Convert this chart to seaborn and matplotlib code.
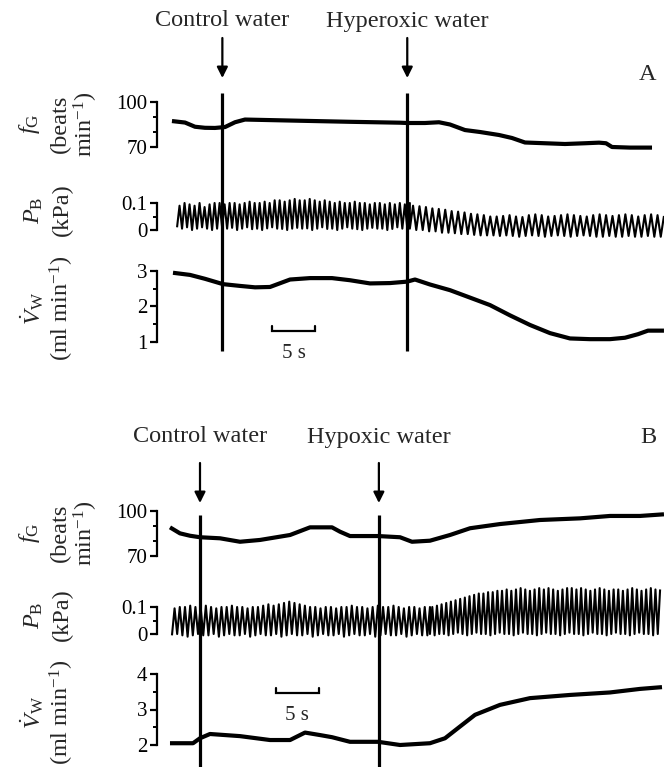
import numpy as np
import pandas as pd
import matplotlib
matplotlib.use("Agg")
import matplotlib.pyplot as plt
import seaborn as sns

# ---------------- data (time in s, values in trace units) ----------------
# Panel A
fg_a_t = [1.74, 3.26, 4.42, 5.58, 6.74, 7.91, 9.07, 10.23, 16.63, 22.44, 28.26, 29.07,
          31.16, 32.79, 34.07, 35.81, 37.56, 39.77, 41.28, 42.79, 45.12, 47.44, 49.77,
          51.40, 52.21, 52.91, 55.0, 57.56]
fg_a_v = [87.3, 86.3, 83.5, 82.8, 82.7, 83.3, 86.5, 88.3, 87.5, 86.8, 86.2, 86.0,
          86.0, 86.5, 85.0, 81.3, 80.0, 78.0, 76.0, 73.0, 72.5, 72.0, 72.5,
          72.9, 72.5, 70.0, 69.6, 69.6]

vw_a_t = [1.86, 3.84, 5.58, 7.67, 9.65, 11.40, 13.14, 15.47, 17.79, 20.35, 22.44, 24.77,
          27.09, 29.07, 30.0, 31.74, 34.07, 36.40, 38.72, 41.05, 43.37, 45.70, 48.02,
          50.35, 52.67, 54.42, 55.93, 57.09, 58.95]
vw_a_v = [2.95, 2.89, 2.78, 2.63, 2.58, 2.54, 2.55, 2.76, 2.80, 2.80, 2.74, 2.65,
          2.66, 2.70, 2.76, 2.62, 2.46, 2.25, 2.04, 1.75, 1.48, 1.25, 1.10,
          1.08, 1.08, 1.12, 1.22, 1.32, 1.32]

pb_a1_span = (2.33, 29.4)
pb_a1_peak = [0.09, 0.10, 0.095, 0.09, 0.10, 0.085, 0.095, 0.10, 0.10, 0.095,
              0.10, 0.10, 0.095, 0.10, 0.105, 0.10, 0.10, 0.105, 0.10, 0.11,
              0.11, 0.105, 0.11, 0.115, 0.11, 0.11, 0.115, 0.11, 0.105, 0.11,
              0.105, 0.10, 0.105, 0.10, 0.10, 0.105, 0.10, 0.10, 0.095, 0.10,
              0.10, 0.095, 0.10, 0.095, 0.10, 0.095, 0.10]
pb_a1_trough = [0.01, 0.005, 0.01, 0.0, 0.005, 0.01, 0.005, 0.0, 0.005, 0.01,
                0.005, 0.008, 0.0, 0.005, 0.01, 0.003, 0.005, 0.0, 0.006, 0.01,
                0.005, 0.004, 0.0, 0.005, 0.008, 0.005, 0.006, 0.0, 0.005, 0.01,
                0.004, 0.005, 0.0, 0.005, 0.01, 0.005, 0.003, 0.0, 0.005, 0.008,
                0.005, 0.005, 0.0, 0.004, 0.01, 0.005, 0.005]
pb_a2_span = (29.4, 58.95)
pb_a2_peak = [0.09, 0.088, 0.085, 0.08, 0.078, 0.075, 0.07, 0.068, 0.065, 0.06,
              0.058, 0.055, 0.05, 0.05, 0.052, 0.055, 0.05, 0.048, 0.055, 0.058,
              0.055, 0.05, 0.052, 0.055, 0.058, 0.055, 0.052, 0.05, 0.055, 0.058,
              0.055, 0.052, 0.055, 0.058, 0.055, 0.05, 0.055, 0.058, 0.055, 0.052]
pb_a2_trough = [0.005, 0.0, 0.0, -0.005, -0.005, -0.01, -0.01, -0.012, -0.015, -0.015,
                -0.018, -0.02, -0.02, -0.02, -0.022, -0.02, -0.022, -0.025, -0.022, -0.02,
                -0.022, -0.025, -0.022, -0.02, -0.022, -0.025, -0.022, -0.02, -0.022, -0.025,
                -0.025, -0.022, -0.025, -0.025, -0.022, -0.025, -0.025, -0.022, -0.025, -0.025]

events_a = [7.6, 29.1]
event_labels_a = ["Control water", "Hyperoxic water"]

# Panel B
fg_b_t = [1.51, 2.67, 3.84, 5.0, 7.33, 9.65, 11.98, 15.47, 17.79, 20.35, 21.28, 22.44,
          25.70, 28.26, 29.65, 31.74, 34.07, 36.40, 39.88, 44.53, 49.19, 52.67, 56.16, 58.95]
fg_b_v = [89.1, 85.1, 83.5, 82.5, 81.8, 79.5, 80.7, 84.0, 89.1, 89.1, 86.2, 83.3,
          83.3, 82.5, 79.5, 80.2, 84.0, 88.5, 91.3, 94.0, 95.1, 96.7, 96.7, 97.8]

vw_b_t = [1.51, 4.19, 5.0, 6.16, 9.65, 13.14, 15.47, 17.21, 18.95, 20.35, 22.44, 25.70,
          28.26, 31.74, 33.49, 35.23, 36.98, 39.88, 43.37, 48.02, 52.67, 56.16, 58.72]
vw_b_v = [2.05, 2.05, 2.19, 2.31, 2.25, 2.14, 2.14, 2.35, 2.28, 2.22, 2.09, 2.09,
          2.0, 2.05, 2.19, 2.52, 2.85, 3.13, 3.32, 3.41, 3.48, 3.58, 3.63]

pb_b1_span = (1.74, 31.74)
pb_b1_peak = [0.095, 0.10, 0.10, 0.105, 0.10, 0.10, 0.105, 0.10, 0.095, 0.10,
              0.10, 0.105, 0.10, 0.10, 0.095, 0.10, 0.10, 0.105, 0.11, 0.105,
              0.11, 0.115, 0.12, 0.115, 0.11, 0.105, 0.10, 0.10, 0.095, 0.10,
              0.10, 0.095, 0.10, 0.10, 0.105, 0.10, 0.10, 0.095, 0.10, 0.105,
              0.10, 0.10, 0.105, 0.10, 0.095, 0.10, 0.10, 0.095, 0.10, 0.10]
pb_b1_trough = [-0.005, 0.0, -0.005, -0.01, -0.005, 0.0, -0.005, -0.005, 0.0, -0.01,
                -0.005, 0.0, -0.005, -0.005, 0.0, -0.01, -0.005, 0.0, -0.005, -0.005,
                0.0, -0.01, -0.005, 0.0, -0.005, -0.005, 0.0, -0.01, -0.005, 0.0,
                -0.005, -0.005, 0.0, -0.01, -0.005, 0.0, -0.005, -0.005, 0.0, -0.01,
                -0.005, 0.0, -0.005, -0.005, 0.0, -0.01, -0.005, 0.0, -0.005, -0.005]
pb_b2_span = (31.74, 58.5)
pb_b2_peak = [0.10, 0.105, 0.11, 0.115, 0.12, 0.125, 0.13, 0.135, 0.14, 0.145,
              0.15, 0.15, 0.155, 0.155, 0.16, 0.16, 0.165, 0.16, 0.165, 0.17,
              0.165, 0.16, 0.165, 0.17, 0.165, 0.17, 0.165, 0.16, 0.165, 0.17,
              0.17, 0.165, 0.17, 0.165, 0.16, 0.165, 0.17, 0.165, 0.16, 0.165,
              0.165, 0.16, 0.165, 0.17, 0.165, 0.16, 0.165, 0.17, 0.165, 0.165]
pb_b2_trough = [0.0, -0.005, 0.0, 0.0, -0.005, 0.0, 0.005, 0.0, -0.005, 0.0,
                0.005, 0.0, 0.0, -0.005, 0.0, 0.005, 0.0, 0.0, -0.005, 0.0,
                0.005, 0.0, 0.0, -0.005, 0.0, 0.005, 0.0, 0.0, -0.005, 0.0,
                0.005, 0.0, 0.0, -0.005, 0.0, 0.005, 0.0, 0.0, -0.005, 0.0,
                0.005, 0.0, 0.0, -0.005, 0.0, 0.005, 0.0, 0.0, -0.005, 0.0]

events_b = [5.0, 25.8]
event_labels_b = ["Control water", "Hypoxic water"]

scale_bar_s = 5

# ---------------- figure setup ----------------
sns.set_style("white")
plt.rcParams["font.family"] = ["Liberation Serif", "DejaVu Serif"]
plt.rcParams["mathtext.fontset"] = "custom"
plt.rcParams["mathtext.rm"] = "Liberation Serif"
plt.rcParams["mathtext.it"] = "Liberation Serif:italic"
plt.rcParams["mathtext.bf"] = "Liberation Serif:bold"

W, H = 664, 767
X0 = 157  # x pixel of the y spines
PX_PER_S = 8.6
TMAX = (W - X0) / PX_PER_S

fig = plt.figure(figsize=(W / 100, H / 100), dpi=100)
fig.patch.set_facecolor("white")

TICK_FS = 15
LAB_FS = 17.5


def trace_axes(top, bot, v1, y1, v2, y2, major, minor):
    ax = fig.add_axes([X0 / W, 1 - bot / H, (W - X0) / W, (bot - top) / H])
    ax.patch.set_alpha(0)
    slope = (v2 - v1) / (y2 - y1)
    vtop = v1 + (top - y1) * slope
    vbot = v1 + (bot - y1) * slope
    ax.set_ylim(vbot, vtop)
    ax.set_xlim(0, TMAX)
    for s in ["top", "right", "bottom"]:
        ax.spines[s].set_visible(False)
    ax.spines["left"].set_linewidth(1.6)
    ax.spines["left"].set_color("black")
    ax.spines["left"].set_bounds(min(major), max(major))
    ax.set_yticks(major)
    ax.set_yticks(minor, minor=True)
    ax.tick_params(axis="y", which="major", left=True, direction="out", length=5, width=1.6,
                   labelsize=TICK_FS, pad=2, colors="black")
    ax.tick_params(axis="y", which="minor", left=True, direction="out", length=3, width=1.4,
                   colors="black")
    ax.set_xticks([])
    ax.set_xlabel("")
    ax.set_ylabel("")
    ax.grid(False)
    return ax


def draw_line(ax, t, v, lw):
    df = pd.DataFrame({"t": t, "v": v})
    sns.lineplot(data=df, x="t", y="v", ax=ax, color="black", lw=lw,
                 estimator=None, sort=False, legend=False)
    ax.set_xlabel("")
    ax.set_ylabel("")
    for ln in ax.lines:
        ln.set_solid_capstyle("butt")
        ln.set_solid_joinstyle("round")


def pb_frame(spans_peaks_troughs):
    ts, vs = [], []
    for (t0, t1), pk, tr in spans_peaks_troughs:
        n = len(pk)
        tt = np.linspace(t0, t1, 2 * n)
        vv = np.empty(2 * n)
        vv[0::2] = tr
        vv[1::2] = pk
        ts.extend(tt)
        vs.extend(vv)
    return ts, vs


def overlay(events, labels, y_text, y_arrow0, y_arrow1, y_line0, y_line1, bar_t0, bar_y,
            panel_letter, letter_y):
    ov = fig.add_axes([X0 / W, 0, (W - X0) / W, 1])
    ov.set_xlim(0, TMAX)
    ov.set_ylim(H, 0)
    ov.axis("off")
    ov.vlines(events, y_line0, y_line1, color="black", lw=2.3)
    for t, lab in zip(events, labels):
        ov.annotate("", xy=(t, y_arrow1), xytext=(t, y_arrow0),
                    arrowprops=dict(arrowstyle="-|>", lw=1.6, color="black",
                                    mutation_scale=16, shrinkA=0, shrinkB=0))
        ov.text(t, y_text, lab, ha="center", va="center", fontsize=LAB_FS, clip_on=False)
    # 5 s scale bar
    ov.plot([bar_t0, bar_t0, bar_t0 + scale_bar_s, bar_t0 + scale_bar_s],
            [bar_y - 5, bar_y, bar_y, bar_y - 5], color="black", lw=1.6,
            solid_joinstyle="miter")
    ov.text(bar_t0 + scale_bar_s / 2, bar_y + 22, f"{scale_bar_s} s", ha="center",
            va="center", fontsize=TICK_FS)
    fig.text(648 / W, 1 - letter_y / H, panel_letter, ha="center", va="center",
             fontsize=LAB_FS)
    return ov


def ylabel_lines(lines, xs, y_center):
    for txt, x in zip(lines, xs):
        fig.text(x / W, 1 - y_center / H, txt, rotation=90, ha="center", va="center",
                 fontsize=LAB_FS)


# ---------------- Panel A ----------------
ax = trace_axes(92, 165, 100, 102, 70, 147, [70, 100], [80, 90])
draw_line(ax, fg_a_t, fg_a_v, 3.0)
ax.set_yticklabels(["70", "100"])

ax = trace_axes(188, 248, 0.1, 203, 0.0, 230, [0.0, 0.1], [0.05])
t, v = pb_frame([(pb_a1_span, pb_a1_peak, pb_a1_trough),
                 (pb_a2_span, pb_a2_peak, pb_a2_trough)])
draw_line(ax, t, v, 1.5)
ax.set_yticklabels(["0", "0.1"])

ax = trace_axes(258, 352, 3, 271, 1, 342, [1, 2, 3], [1.5, 2.5])
draw_line(ax, vw_a_t, vw_a_v, 3.0)
ax.set_yticklabels(["1", "2", "3"])

overlay(events_a, event_labels_a, 21, 38, 78, 93, 351, 13.4, 331, "A", 75)
ylabel_lines([r"$f_{\mathrm{G}}$", "(beats", r"min$^{-1}$)"], [30, 60, 86], 124)
ylabel_lines([r"$P_{\mathrm{B}}$", "(kPa)"], [34, 62], 210)
ylabel_lines([r"$\dot{V}_{\mathrm{W}}$", r"(ml min$^{-1}$)"], [32, 62], 308)

# ---------------- Panel B ----------------
ax = trace_axes(500, 570, 100, 511, 70, 556, [70, 100], [80, 90])
draw_line(ax, fg_b_t, fg_b_v, 3.0)
ax.set_yticklabels(["70", "100"])

ax = trace_axes(578, 648, 0.1, 607, 0.0, 634, [0.0, 0.1], [0.05])
t, v = pb_frame([(pb_b1_span, pb_b1_peak, pb_b1_trough),
                 (pb_b2_span, pb_b2_peak, pb_b2_trough)])
draw_line(ax, t, v, 1.5)
ax.set_yticklabels(["0", "0.1"])

ax = trace_axes(662, 765, 4, 674, 2, 745, [2, 3, 4], [2.5, 3.5])
draw_line(ax, vw_b_t, vw_b_v, 3.0)
ax.set_yticklabels(["2", "3", "4"])

overlay(events_b, event_labels_b, 437, 463, 503, 515, 767, 13.8, 693, "B", 437)
ylabel_lines([r"$f_{\mathrm{G}}$", "(beats", r"min$^{-1}$)"], [30, 60, 86], 533)
ylabel_lines([r"$P_{\mathrm{B}}$", "(kPa)"], [34, 62], 615)
ylabel_lines([r"$\dot{V}_{\mathrm{W}}$", r"(ml min$^{-1}$)"], [32, 62], 712)

fig.savefig("out.png", dpi=100, facecolor="white")
